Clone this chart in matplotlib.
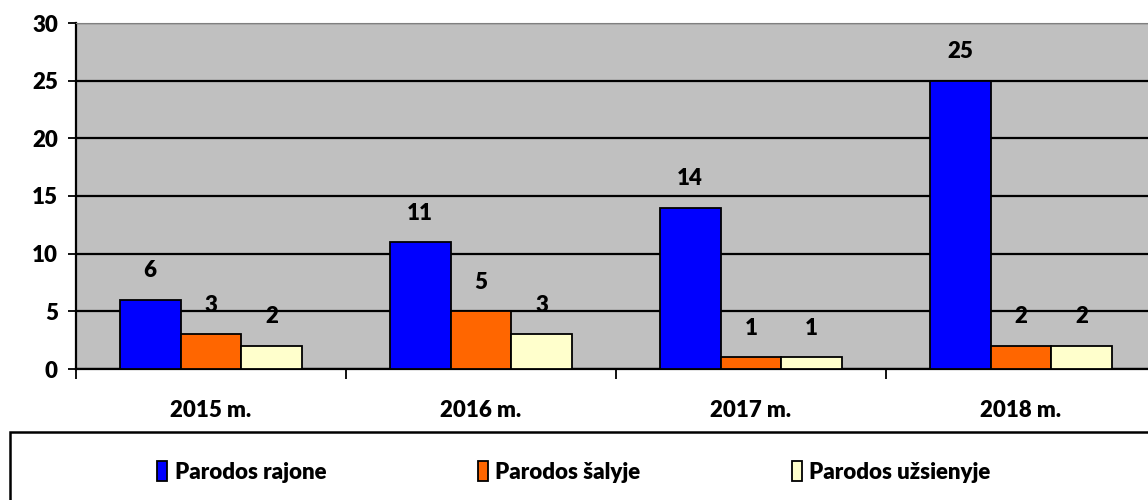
import numpy as np
import matplotlib.pyplot as plt
from matplotlib.patches import Rectangle

years = ['2015 m.', '2016 m.', '2017 m.', '2018 m.']
series = ['Parodos rajone', 'Parodos šalyje', 'Parodos užsienyje']
rajone = [6, 11, 14, 25]
salyje = [3, 5, 1, 2]
uzsienyje = [2, 3, 1, 2]
colors = ['#0000FF', '#FF6600', '#FFFFCC']

plt.rcParams['font.family'] = ['Lato', 'DejaVu Sans']
plt.rcParams['font.weight'] = 'heavy'
fs = 16

fig = plt.figure(figsize=(11.48, 5.0), dpi=100)
ax = fig.add_axes([76 / 1148, 1 - 369 / 500, 1080 / 1148, 346 / 500])
ax.set_facecolor('#C0C0C0')

x = np.arange(len(years))
w = 0.225
values = [rajone, salyje, uzsienyje]
handles = []
for i, (vals, col, name) in enumerate(zip(values, colors, series)):
    pos = x + (i - 1) * w
    b = ax.bar(pos, vals, width=w, color=col, edgecolor='black', linewidth=1.3,
               label=name, zorder=3)
    handles.append(b)
    for p, v in zip(pos, vals):
        ax.text(p, v + 1.6, str(v), ha='center', va='bottom', fontsize=fs,
                fontweight='heavy', zorder=4)

ax.set_xlim(-0.5, len(years) - 0.5)
ax.set_ylim(0, 30)
ax.set_yticks(range(0, 31, 5))
ax.yaxis.grid(True, color='black', linewidth=1.6, zorder=1)
ax.set_axisbelow(True)

ax.set_xticks(np.arange(-0.5, len(years), 1.0))
ax.set_xticklabels([])
ax.set_xticks(x, minor=True)
ax.set_xticklabels(years, minor=True)
ax.tick_params(axis='x', which='minor', length=0, pad=22, labelsize=fs)
ax.tick_params(axis='x', which='major', length=7, width=1.3, direction='out')
ax.tick_params(axis='y', length=6, width=1.3, direction='out', labelsize=fs, pad=7)
for lab in ax.get_xticklabels(minor=True) + ax.get_yticklabels():
    lab.set_fontweight('heavy')

ax.spines['right'].set_visible(False)
ax.spines['top'].set_color('#808080')
ax.spines['left'].set_linewidth(1.6)
ax.spines['bottom'].set_linewidth(1.6)

# legend box
fig.patches.append(Rectangle((10 / 1148, -0.1), 1.2, 0.1 + (500 - 432) / 500,
                             transform=fig.transFigure, fill=False,
                             edgecolor='black', linewidth=1.8))
leg = fig.legend(handles=handles, labels=series, loc='center',
                 bbox_to_anchor=(574 / 1148, 1 - 472 / 500), ncol=3, frameon=False,
                 handlelength=0.45, handleheight=1.0, handletextpad=0.35,
                 columnspacing=6.8, prop={'size': fs, 'weight': 'heavy'})

fig.savefig('out.png', dpi=100)
